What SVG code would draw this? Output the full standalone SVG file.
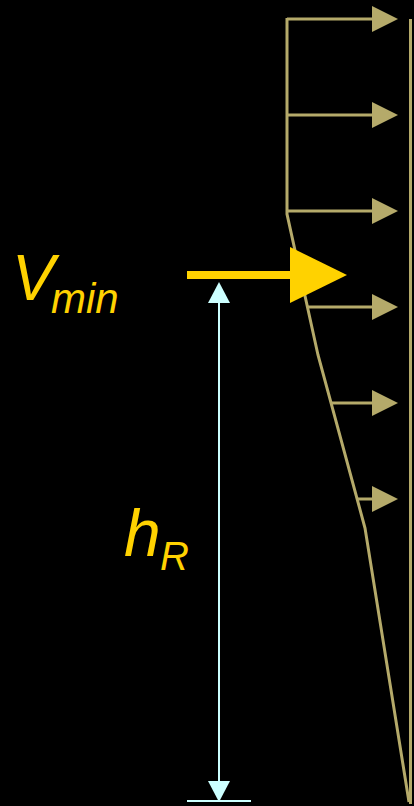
<svg xmlns="http://www.w3.org/2000/svg" width="414" height="806" viewBox="0 0 414 806">
<style>
.ld{stroke:#B5AA6A;stroke-width:3;fill:none}
.hd{fill:#B5AA6A}
.lbl{font-family:"Liberation Sans",Arial,sans-serif;font-style:italic;fill:#FFD200}
.dim{stroke:#CCFFFF;stroke-width:2;fill:none}
</style>
<rect x="0" y="0" width="414" height="806" fill="#000"/>
<g id="profile">
<polyline class="ld" points="287,18 287,214 318,355 365,528 409,802"/>
<line class="ld" x1="410.5" y1="19" x2="410.5" y2="804"/>
</g>
<g id="connectors">
<g id="load-arrows">
<line class="ld" x1="287" y1="19" x2="374" y2="19"/><polygon class="hd" points="372,6 398,19 372,32"/>
<line class="ld" x1="287" y1="115" x2="374" y2="115"/><polygon class="hd" points="372,102 398,115 372,128"/>
<line class="ld" x1="287" y1="211" x2="374" y2="211"/><polygon class="hd" points="372,198 398,211 372,224"/>
<line class="ld" x1="308" y1="307" x2="374" y2="307"/><polygon class="hd" points="372,294 398,307 372,320"/>
<line class="ld" x1="330" y1="403" x2="374" y2="403"/><polygon class="hd" points="372,390 398,403 372,416"/>
<line class="ld" x1="358" y1="499" x2="374" y2="499"/><polygon class="hd" points="372,486 398,499 372,512"/>
</g>
<g id="vmin-arrow">
<line x1="187" y1="275" x2="292" y2="275" stroke="#FFD200" stroke-width="8"/>
<polygon points="290,247 347,275 290,303" fill="#FFD200"/>
</g>
<g id="hR-dimension">
<line class="dim" x1="219" y1="300" x2="219" y2="784"/>
<polygon points="208,303 219,282 230,303" fill="#CCFFFF"/>
<polygon points="208,781 219,802 230,781" fill="#CCFFFF"/>
<line class="dim" x1="187" y1="801" x2="251" y2="801" stroke-width="2.5"/>
</g>
</g>
<g id="label-vmin">
<text class="lbl" x="12" y="300" font-size="64">V</text>
<text class="lbl" x="51" y="313" font-size="42">min</text>
</g>
<g id="label-hR">
<text class="lbl" x="124" y="556" font-size="66">h</text>
<text class="lbl" x="160" y="570" font-size="40">R</text>
</g>
</svg>
